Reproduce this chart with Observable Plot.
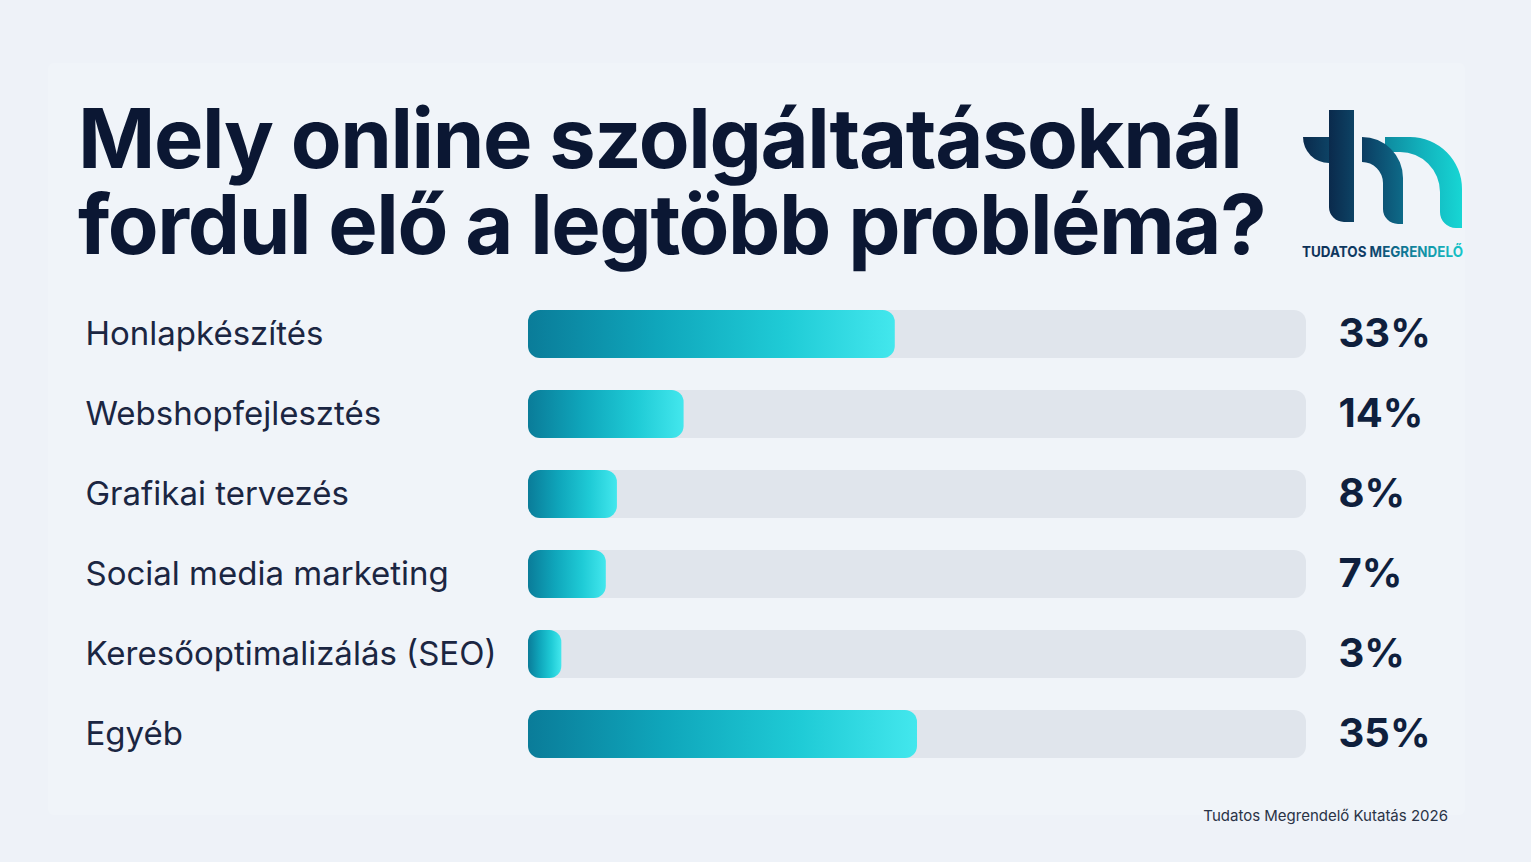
<!DOCTYPE html>
<html lang="hu">
<head>
<meta charset="utf-8">
<script src="https://cdn.jsdelivr.net/npm/d3@7"></script>
<script src="https://cdn.jsdelivr.net/npm/@observablehq/plot@0.6"></script>
<style>
  html, body { margin: 0; padding: 0; }
  body { width: 1531px; height: 862px; background: #eef2f8; position: relative; overflow: hidden; font-family: Inter, "Noto Sans", sans-serif; }
  #panel { position: absolute; left: 48px; top: 63px; width: 1417px; height: 752px; background: #f0f4f9; border-radius: 6px; }
  #title { position: absolute; left: 78px; top: 95px; margin: 0; font-size: 83px; line-height: 86px; font-weight: 700; color: #0b1733; letter-spacing: -1.4px; white-space: nowrap; }
  #logo { position: absolute; left: 1290px; top: 90px; }
  #chart { position: absolute; left: 0; top: 276px; }
  #caption { position: absolute; right: 83px; top: 808px; font-size: 15px; line-height: 16px; color: #2a3346; }
</style>
</head>
<body>
<div id="panel"></div>
<h1 id="title">Mely online szolgáltatásoknál<br>fordul elő a legtöbb probléma?</h1>
<svg id="logo" width="200" height="180" viewBox="1290 90 200 180">
  <defs>
    <linearGradient id="gT" x1="0" x2="1" y1="0" y2="0">
      <stop offset="0" stop-color="#0a2a4c"/>
      <stop offset="1" stop-color="#0d4264"/>
    </linearGradient>
    <linearGradient id="gA" x1="0" x2="1" y1="0" y2="0">
      <stop offset="0" stop-color="#0b3d62"/>
      <stop offset="1" stop-color="#0e6a88"/>
    </linearGradient>
    <linearGradient id="gB" x1="0" x2="1" y1="0" y2="0">
      <stop offset="0" stop-color="#0e8a9f"/>
      <stop offset="0.5" stop-color="#12b3bd"/>
      <stop offset="1" stop-color="#17d6d4"/>
    </linearGradient>
    <linearGradient id="gTxt" gradientUnits="userSpaceOnUse" x1="1302" x2="1463" y1="0" y2="0">
      <stop offset="0" stop-color="#0c2f56"/>
      <stop offset="0.42" stop-color="#0d3d66"/>
      <stop offset="0.6" stop-color="#0f6f8f"/>
      <stop offset="1" stop-color="#16c6c9"/>
    </linearGradient>
  </defs>
  <path d="M1329,110 H1354 V222 H1344 A15,15 0 0 1 1329,207 Z" fill="url(#gT)"/>
  <path d="M1329,137 H1303 A26,26 0 0 0 1329,163 Z" fill="url(#gT)"/>
  <path d="M1385,137 H1410 A52,52 0 0 1 1462,189 V228 H1456 A16,16 0 0 1 1440,212 V192 A40,40 0 0 0 1400,152 L1385,152 Z" fill="url(#gB)"/>
  <path d="M1362,137 A41,41 0 0 1 1403,178 V224 H1398 A15,15 0 0 1 1383,209 V183 A21,21 0 0 0 1362,162 Z" fill="url(#gA)"/>
  <text x="1302" y="257" font-size="14.5" font-weight="700" textLength="161" lengthAdjust="spacingAndGlyphs" fill="url(#gTxt)" font-family="Inter, sans-serif">TUDATOS MEGRENDELŐ</text>
</svg>
<div id="chart"></div>
<div id="caption">Tudatos Megrendelő Kutatás 2026</div>
<script>
// ---- data ----
const categories = [
  "Honlapkészítés",
  "Webshopfejlesztés",
  "Grafikai tervezés",
  "Social media marketing",
  "Keresőoptimalizálás (SEO)",
  "Egyéb"
];
const values = [33, 14, 8, 7, 3, 35];
const xMax = 70;

const data = categories.map((label, i) => ({label, value: values[i]}));

const chart = Plot.plot({
  width: 1531,
  height: 515,
  marginTop: 0,
  marginBottom: 0,
  marginLeft: 528,
  marginRight: 225,
  style: {background: "transparent", fontFamily: "Inter, 'Noto Sans', sans-serif", overflow: "visible"},
  x: {domain: [0, xMax], axis: null},
  y: {domain: categories, padding: 0.4, axis: null},
  marks: [
    Plot.barX(data, {y: "label", x1: 0, x2: xMax, fill: "#e0e5ec", rx: 12}),
    Plot.barX(data, {y: "label", x1: 0, x2: "value", fill: "url(#barGrad)", rx: 12}),
    Plot.text(data, {y: "label", text: "label", frameAnchor: "left", textAnchor: "start", dx: -443, fontSize: 33, fill: "#1b2642"}),
    Plot.text(data, {y: "label", text: d => d.value + "%", frameAnchor: "right", textAnchor: "start", dx: 32, fontSize: 40, fontWeight: 700, fill: "#0f1f3d"})
  ]
});

const ns = "http://www.w3.org/2000/svg";
const defs = document.createElementNS(ns, "defs");
const grad = document.createElementNS(ns, "linearGradient");
grad.setAttribute("id", "barGrad");
grad.setAttribute("x1", "0"); grad.setAttribute("x2", "1");
grad.setAttribute("y1", "0"); grad.setAttribute("y2", "0");
[["0", "#0a7c99"], ["0.35", "#0fa6bb"], ["0.7", "#1fcbd6"], ["1", "#43e7ed"]].forEach(([o, c]) => {
  const s = document.createElementNS(ns, "stop");
  s.setAttribute("offset", o); s.setAttribute("stop-color", c);
  grad.appendChild(s);
});
defs.appendChild(grad);
chart.insertBefore(defs, chart.firstChild);

document.getElementById("chart").appendChild(chart);
</script>
</body>
</html>
